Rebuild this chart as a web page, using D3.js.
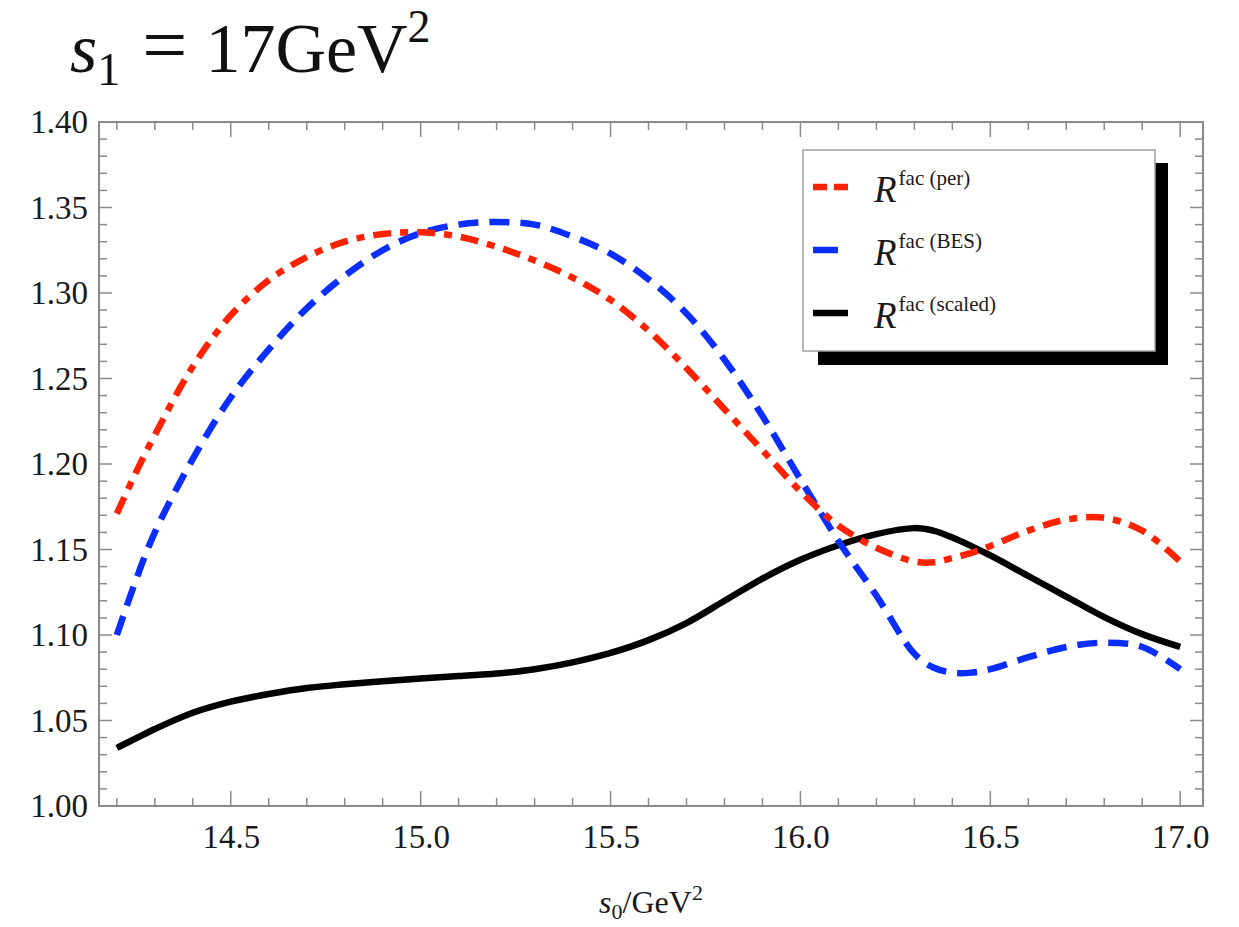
<!DOCTYPE html>
<html>
<head>
<meta charset="utf-8">
<script src="https://cdn.jsdelivr.net/npm/d3@7"></script>
<style>
  html, body { margin: 0; padding: 0; background: #fff; }
  svg { display: block; }
  text { font-family: "Liberation Serif", "Times New Roman", serif; }
</style>
</head>
<body>
<svg id="chart" width="1239" height="927"></svg>
<script>
// ---- data ----
const xValues = [14.2, 14.25, 14.3, 14.4, 14.5, 14.6, 14.7, 14.8, 14.9, 15.0, 15.1, 15.2, 15.3, 15.4, 15.5, 15.6, 15.7, 15.8, 15.9, 16.0, 16.1, 16.2, 16.3, 16.35, 16.4, 16.45, 16.5, 16.6, 16.7, 16.8, 16.9, 17.0];
const rPer    = [1.171, 1.195, 1.217, 1.257, 1.287, 1.3075, 1.321, 1.330, 1.3345, 1.3355, 1.333, 1.327, 1.319, 1.309, 1.296, 1.278, 1.256, 1.232, 1.208, 1.184, 1.164, 1.151, 1.143, 1.1425, 1.145, 1.148, 1.152, 1.161, 1.1675, 1.1685, 1.161, 1.143];
const rBES    = [1.100, 1.132, 1.160, 1.203, 1.239, 1.267, 1.291, 1.310, 1.325, 1.335, 1.340, 1.3415, 1.340, 1.333, 1.323, 1.308, 1.288, 1.261, 1.228, 1.191, 1.155, 1.123, 1.089, 1.081, 1.078, 1.078, 1.080, 1.087, 1.093, 1.0955, 1.093, 1.080];
const rScaled = [1.034, 1.0395, 1.045, 1.0545, 1.061, 1.0655, 1.069, 1.0712, 1.073, 1.0745, 1.076, 1.0775, 1.080, 1.084, 1.0895, 1.097, 1.107, 1.120, 1.133, 1.144, 1.1525, 1.159, 1.1625, 1.161, 1.157, 1.152, 1.1465, 1.1345, 1.1225, 1.1105, 1.1005, 1.093];
const xTickLabels = ["14.5", "15.0", "15.5", "16.0", "16.5", "17.0"];
const yTickLabels = ["1.00", "1.05", "1.10", "1.15", "1.20", "1.25", "1.30", "1.35", "1.40"];
const seriesNames = ["(per)", "(BES)", "(scaled)"];

// ---- layout ----
const svg = d3.select("#chart");
const L = 99, R = 1203, T = 122, B = 806;
const x = d3.scaleLinear().domain([14.153, 17.06]).range([L, R]);
const y = d3.scaleLinear().domain([1.0, 1.40]).range([B, T]);
const tickColor = "#8a8a8a";

// title
const title = svg.append("text").attr("x", 70).attr("y", 72).attr("font-size", 70).attr("fill", "#111");
title.append("tspan").attr("font-style", "italic").text("s");
title.append("tspan").attr("font-size", 46).attr("dy", 13).text("1");
title.append("tspan").attr("dy", -13).attr("dx", 22).attr("font-size", 80).text("=");
title.append("tspan").attr("dx", 18).text("17GeV");
title.append("tspan").attr("font-size", 46).attr("dy", -30).text("2");

// minor ticks
const xMinor = d3.range(142, 171).map(d => d / 10);
const yMinor = d3.range(100, 141).map(d => d / 100);
const g = svg.append("g");
const xMaj = xTickLabels.map(Number);
const yMaj = yTickLabels.map(Number);
const isMajX = v => xMaj.some(m => Math.abs(m - v) < 1e-6);
const isMajY = v => yMaj.some(m => Math.abs(m - v) < 1e-6);

xMinor.forEach(v => {
  const len = isMajX(v) ? 15 : 8;
  g.append("line").attr("x1", x(v)).attr("x2", x(v)).attr("y1", B).attr("y2", B - len).attr("stroke", tickColor).attr("stroke-width", 1.5);
  g.append("line").attr("x1", x(v)).attr("x2", x(v)).attr("y1", T).attr("y2", T + len).attr("stroke", tickColor).attr("stroke-width", 1.5);
});
yMinor.forEach(v => {
  const len = isMajY(v) ? 13 : 8;
  g.append("line").attr("x1", L).attr("x2", L + len).attr("y1", y(v)).attr("y2", y(v)).attr("stroke", tickColor).attr("stroke-width", 1.5);
  g.append("line").attr("x1", R).attr("x2", R - len).attr("y1", y(v)).attr("y2", y(v)).attr("stroke", tickColor).attr("stroke-width", 1.5);
});

// axes labels via d3 axes
const xAxis = d3.axisBottom(x).tickValues(xMaj).tickFormat((d, i) => xTickLabels[i]).tickSize(0).tickPadding(19);
const gx = svg.append("g").attr("transform", `translate(0,${B})`).call(xAxis);
gx.select(".domain").remove();
gx.selectAll("text").attr("font-size", 33).attr("fill", "#1a1a1a").attr("font-family", "Liberation Serif");

const yAxis = d3.axisLeft(y).tickValues(yMaj).tickFormat((d, i) => yTickLabels[i]).tickSize(0).tickPadding(11);
const gy = svg.append("g").attr("transform", `translate(${L},0)`).call(yAxis);
gy.select(".domain").remove();
gy.selectAll("text").attr("font-size", 33).attr("fill", "#1a1a1a").attr("font-family", "Liberation Serif");

// frame
svg.append("rect").attr("x", L).attr("y", T).attr("width", R - L).attr("height", B - T)
  .attr("fill", "none").attr("stroke", tickColor).attr("stroke-width", 2);

// x axis title
const xt = svg.append("text").attr("x", (L + R) / 2).attr("y", 913).attr("text-anchor", "middle").attr("font-size", 32).attr("fill", "#1a1a1a");
xt.append("tspan").attr("font-style", "italic").text("s");
xt.append("tspan").attr("font-size", 22).attr("dy", 6).text("0");
xt.append("tspan").attr("dy", -6).text("/GeV");
xt.append("tspan").attr("font-size", 22).attr("dy", -13).text("2");

// lines
const line = d3.line().x(d => x(d[0])).y(d => y(d[1])).curve(d3.curveCatmullRom.alpha(0.5));
svg.append("clipPath").attr("id", "clip").append("rect").attr("x", L).attr("y", T).attr("width", R - L).attr("height", B - T);
const plot = svg.append("g").attr("clip-path", "url(#clip)");

const red = "#ff2200", blue = "#0a2eff";
plot.append("path").datum(xValues.map((v, i) => [v, rScaled[i]])).attr("d", line)
  .attr("fill", "none").attr("stroke", "#000").attr("stroke-width", 6.5).attr("stroke-linejoin", "round");
plot.append("path").datum(xValues.map((v, i) => [v, rBES[i]])).attr("d", line)
  .attr("fill", "none").attr("stroke", blue).attr("stroke-width", 6.5).attr("stroke-dasharray", "20,11");
plot.append("path").datum(xValues.map((v, i) => [v, rPer[i]])).attr("d", line)
  .attr("fill", "none").attr("stroke", red).attr("stroke-width", 6.5).attr("stroke-dasharray", "18,9,8,9");

// legend
svg.append("rect").attr("x", 818).attr("y", 163).attr("width", 350).attr("height", 202).attr("fill", "#000");
svg.append("rect").attr("x", 803).attr("y", 150).attr("width", 352).attr("height", 201).attr("fill", "#fff").attr("stroke", "#a0a0a0").attr("stroke-width", 1.5);

const legendRows = [
  {y: 187, color: red, dash: "14,7", len: 37},
  {y: 250, color: blue, dash: null, len: 25},
  {y: 313, color: "#000", dash: null, len: 35}
];
legendRows.forEach((r, i) => {
  const ln = svg.append("line").attr("x1", 813).attr("x2", 813 + r.len).attr("y1", r.y).attr("y2", r.y)
    .attr("stroke", r.color).attr("stroke-width", 6.5);
  if (r.dash) ln.attr("stroke-dasharray", r.dash);
  const t = svg.append("text").attr("x", 874).attr("y", r.y + 15).attr("font-size", 37).attr("fill", "#1a1a1a");
  t.append("tspan").attr("font-style", "italic").text("R");
  t.append("tspan").attr("font-size", 21).attr("dy", -17).attr("dx", 2).text("fac " + seriesNames[i]);
});
</script>
</body>
</html>
